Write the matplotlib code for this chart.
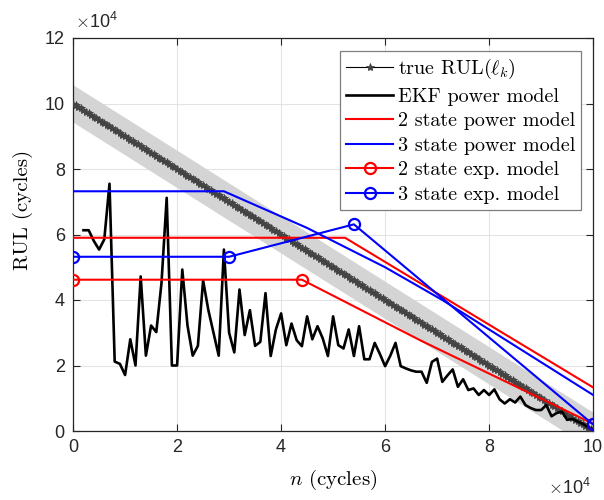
import numpy as np
import matplotlib.pyplot as plt

plt.rcParams['mathtext.fontset'] = 'cm'
plt.rcParams['axes.unicode_minus'] = False

# all values in units of 1e4 cycles
life = 10.0          # end of life, true RUL goes from life to 0
band_half = 0.57     # half width of the grey band round the true RUL

# EKF power model, one value every 1000 cycles from n = 2000
ekf_n = np.arange(2, 101) / 10
ekf_rul = [6.13, 6.13, 5.8, 5.54, 5.85, 7.55,
           2.12, 2.05, 1.71, 2.8, 2.0, 4.72, 2.3, 3.22, 3.02, 4.52,
           7.12, 2.0, 2.0, 4.93, 3.22, 2.3, 2.6, 4.6, 3.7, 3.0,
           2.3, 5.54, 3.0, 2.4, 4.32, 2.93, 3.69, 2.6, 2.72, 4.21,
           2.29, 3.1, 3.59, 2.62, 3.28, 2.77, 2.59, 3.5, 2.8, 3.2,
           2.83, 2.29, 3.5, 2.62, 2.52, 3.1, 2.29, 3.2, 2.19, 2.19,
           2.69, 2.35, 1.98, 2.3, 2.69, 1.98, 1.91, 1.85, 1.81, 1.81,
           1.47, 2.11, 2.21, 1.5, 1.7, 1.88, 1.35, 1.58, 1.25, 1.3,
           1.1, 1.25, 1.1, 1.27, 0.97, 0.84, 0.97, 0.87, 1.05, 0.79,
           0.7, 0.64, 0.64, 0.79, 0.45, 0.55, 0.59, 0.34, 0.37, 0.29,
           0.22, 0.12, 0.05]

# 2 / 3 state power model
p2_n = [0, 5.23, 10]
p2_rul = [5.9, 5.9, 1.33]
p3_n = [0, 2.9, 4.5, 6.0, 7.1, 8.5, 10]
p3_rul = [7.32, 7.32, 6.2, 5.0, 4.0, 2.6, 1.1]

# 2 / 3 state exponential model
e2_n = [0, 4.4, 6.7, 10]
e2_rul = [4.62, 4.62, 2.75, 0.22]
e3_n = [0, 3.0, 5.4, 10]
e3_rul = [5.32, 5.32, 6.31, 0.2]

true_n = np.linspace(0, life, 201)
true_rul = life - true_n

fig = plt.figure(figsize=(6.04, 5.0), dpi=100)
ax = fig.add_axes([0.121, 0.138, 0.861, 0.786])

ax.fill_between(true_n, true_rul - band_half, true_rul + band_half,
                color='#d4d4d4', lw=0, zorder=1)
ax.plot(true_n, true_rul, '-', color='k', lw=0.8, marker='*', ms=6,
        mec='#444444', mfc='#444444', mew=0.6, zorder=3,
        label=r'true RUL($\ell_k$)')
ax.plot(ekf_n, ekf_rul, color='k', lw=1.9, zorder=4, label='EKF power model')
ax.plot(p2_n, p2_rul, color='#ff0000', lw=1.5, zorder=5, label='2 state power model')
ax.plot(p3_n, p3_rul, color='#0000ff', lw=1.5, zorder=5, label='3 state power model')
ax.plot(e2_n, e2_rul, color='#ff0000', lw=1.5, marker='o', ms=8, mfc='none',
        mew=1.6, markevery=[0, 1, 3], zorder=5, label='2 state exp. model')
ax.plot(e3_n, e3_rul, color='#0000ff', lw=1.5, marker='o', ms=8, mfc='none',
        mew=1.6, zorder=6, label='3 state exp. model')

ax.set_xlim(0, 10)
ax.set_ylim(0, 12)
ax.set_xticks([0, 2, 4, 6, 8, 10])
ax.set_yticks([0, 2, 4, 6, 8, 10, 12])
ax.grid(True, color='#e3e3e3', lw=0.8)
ax.set_axisbelow(True)

axis_col = '#262626'
for s in ax.spines.values():
    s.set_color(axis_col)
    s.set_linewidth(0.9)
ax.tick_params(direction='in', top=True, right=True, length=5, width=0.8,
               colors=axis_col, labelsize=13, pad=6)
for lab in ax.get_xticklabels() + ax.get_yticklabels():
    lab.set_fontfamily('Liberation Sans')

ax.set_xlabel(r'$n$ (cycles)', fontfamily='cmr10', fontsize=15)
ax.set_ylabel('RUL (cycles)', fontfamily='cmr10', fontsize=15)
ax.xaxis.set_label_coords(0.5, -0.094)
ax.yaxis.set_label_coords(-0.077, 0.562)

ax.text(0.003, 1.014, r'$\times\mathregular{10^4}$', transform=ax.transAxes,
        fontsize=13, fontfamily='Liberation Sans', color=axis_col,
        ha='left', va='bottom')
ax.text(0.996, -0.16, r'$\times\mathregular{10^4}$', transform=ax.transAxes,
        fontsize=13, fontfamily='Liberation Sans', color=axis_col,
        ha='right', va='baseline')

leg = ax.legend(loc='upper right', bbox_to_anchor=(0.977, 0.967),
                prop={'family': 'cmr10', 'size': 14.5}, fancybox=False,
                framealpha=1, edgecolor='#7f7f7f', handlelength=2.3,
                handletextpad=0.25, labelspacing=0.32, borderpad=0.3,
                borderaxespad=0)
leg.get_frame().set_linewidth(0.9)

fig.savefig('out.png', dpi=100)
